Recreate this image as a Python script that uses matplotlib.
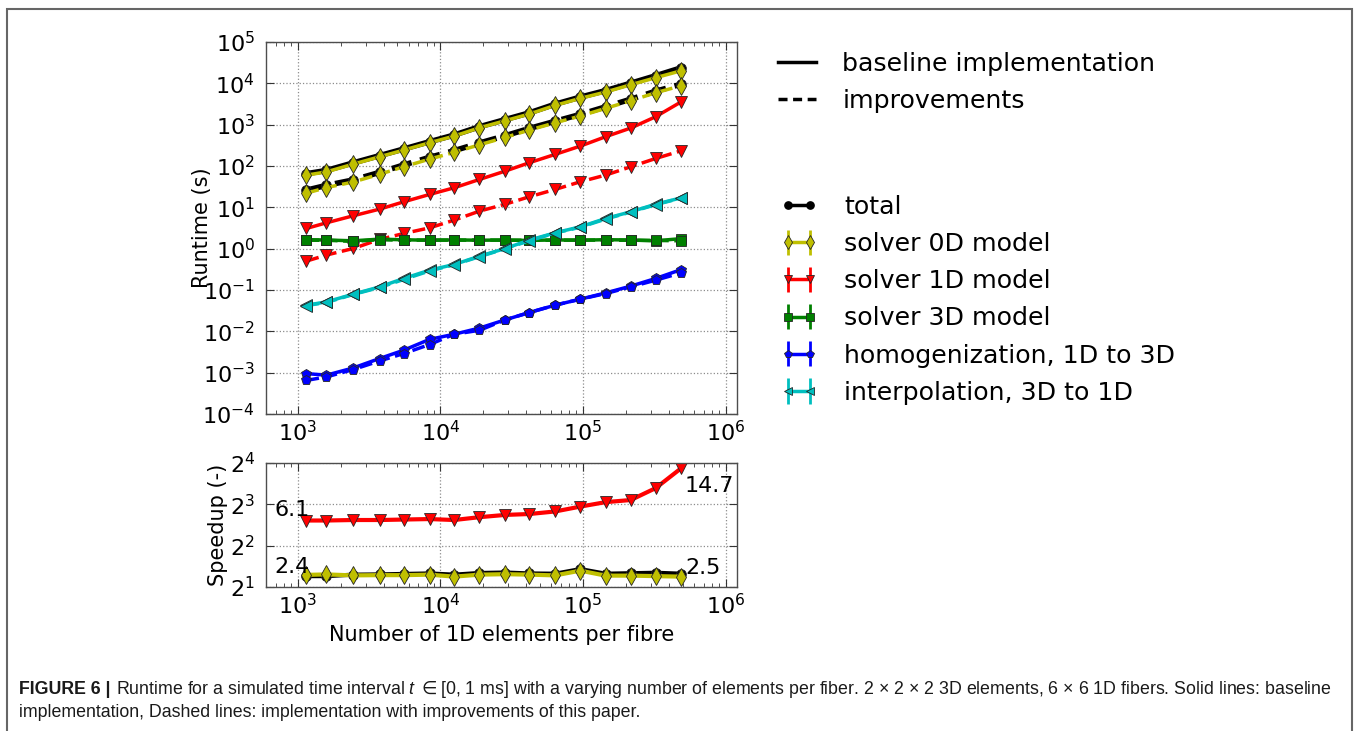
# Runtime and speedup of the multi-scale solver versus the number of 1D elements per fibre

import numpy as np
import matplotlib.pyplot as plt
from matplotlib import font_manager
from matplotlib.lines import Line2D
from matplotlib.patches import Rectangle
from matplotlib.ticker import LogLocator

plt.rcParams['font.family'] = 'DejaVu Sans'
plt.rcParams['mathtext.fontset'] = 'dejavusans'
plt.rcParams['axes.unicode_minus'] = False

# number of 1D elements per fibre
elements = [1150, 1590, 2450, 3750, 5540, 8410, 12500, 18800,
            28500, 42000, 63800, 95700, 144000, 216000, 323000, 489000]

# runtimes in seconds, baseline implementation
total_base = [65, 78, 119, 178, 258, 387, 561, 890,
              1330, 1930, 3130, 4640, 6670, 10080, 15250, 23810]
solver0d_base = [60, 72, 111, 167, 243, 365, 530, 841,
                 1250, 1807, 2933, 4335, 6156, 9240, 13680, 20200]
solver1d_base = [3.08, 4.22, 6.24, 9.04, 13.6, 20.5, 29.7, 47.3,
                 75.3, 120, 191, 303, 511, 828, 1557, 3590]
solver3d_base = [1.65, 1.62, 1.55, 1.7, 1.64, 1.6, 1.63, 1.6,
                 1.62, 1.58, 1.63, 1.6, 1.65, 1.62, 1.55, 1.75]
homog_base = [9.5e-4, 8.7e-4, 1.3e-3, 2.2e-3, 3.5e-3, 6.4e-3, 8.5e-3, 1.2e-2,
              1.9e-2, 2.85e-2, 4.3e-2, 6.0e-2, 8.5e-2, 0.124, 0.19, 0.313]
interp_base = [0.0428, 0.0516, 0.0791, 0.119, 0.19, 0.302, 0.414, 0.658,
               1.01, 1.61, 2.42, 3.38, 5.37, 7.8, 11.9, 17.0]

# runtimes in seconds, with improvements
total_impr = [26, 34, 46, 70, 106, 162, 235, 360,
              540, 810, 1210, 1770, 2700, 4130, 6450, 9550]
solver0d_impr = [22, 30, 41, 63, 96, 147, 214, 326,
                 492, 740, 1110, 1620, 2480, 3790, 5920, 8760]
solver1d_impr = [0.5, 0.7, 1.01, 1.67, 2.33, 3.19, 4.9, 8.1,
                 11.9, 18, 27.1, 41.5, 60.2, 95.8, 152, 234]
solver3d_impr = [1.6, 1.6, 1.5, 1.65, 1.6, 1.62, 1.6, 1.62,
                 1.6, 1.6, 1.6, 1.62, 1.6, 1.6, 1.58, 1.55]
homog_impr = [6.5e-4, 7.9e-4, 1.19e-3, 1.92e-3, 2.9e-3, 4.8e-3, 8.5e-3, 1.06e-2,
              1.9e-2, 2.85e-2, 4.3e-2, 6.0e-2, 8.2e-2, 0.119, 0.173, 0.26]
interp_impr = [0.042, 0.05, 0.078, 0.115, 0.18, 0.29, 0.41, 0.64,
               1.0, 1.55, 2.4, 3.3, 5.2, 7.7, 11.6, 16.8]

# speedup = baseline / improved
speedup_total = [2.4, 2.4, 2.46, 2.47, 2.49, 2.51, 2.46, 2.53,
                 2.55, 2.51, 2.5, 2.7, 2.5, 2.52, 2.54, 2.5]
speedup_0d = [2.45, 2.47, 2.43, 2.44, 2.44, 2.46, 2.38, 2.46,
              2.48, 2.46, 2.43, 2.63, 2.42, 2.42, 2.4, 2.38]
speedup_1d = [6.1, 6.1, 6.15, 6.15, 6.2, 6.25, 6.15, 6.45,
              6.7, 6.8, 7.1, 7.7, 8.3, 8.6, 10.5, 14.7]

W, H = 1360, 731
fig = plt.figure(figsize=(W / 100, H / 100), dpi=100)
ax = fig.add_axes([266 / W, 1 - 414 / H, 471 / W, 372 / H])
ax2 = fig.add_axes([266 / W, 1 - 587 / H, 471 / W, 124 / H])

yellow = (0.75, 0.75, 0)
cyan = (0, 0.75, 0.75)
green = (0, 0.5, 0)
mk = dict(mec='0.15', mew=0.6)
zeros = np.zeros(len(elements))

# total: plain line with circles, the components with (empty) error bars
ax.plot(elements, total_base, color='k', lw=4, marker='o', ms=7, **mk)
ax.plot(elements, total_impr, color='k', lw=4, ls='--', marker='o', ms=7, **mk)

components = [
    (solver0d_base, solver0d_impr, yellow, 'd', 9, 'solver 0D model'),
    (solver1d_base, solver1d_impr, 'r', 'v', 8, 'solver 1D model'),
    (solver3d_base, solver3d_impr, green, 's', 7.5, 'solver 3D model'),
    (homog_base, homog_impr, 'b', 'p', 7.5, 'homogenization, 1D to 3D'),
    (interp_base, interp_impr, cyan, '<', 8, 'interpolation, 3D to 1D'),
]
comp_handles = []
for base, impr, color, marker, ms, label in components:
    h = ax.errorbar(elements, base, yerr=zeros, color=color, marker=marker,
                    ms=ms, lw=2.5, elinewidth=2, **mk)
    ax.errorbar(elements, impr, yerr=zeros, color=color, marker=marker,
                ms=ms, lw=2.5, ls='--', elinewidth=2, **mk)
    comp_handles.append(h)

ax.set_xscale('log')
ax.set_yscale('log')
ax.set_xlim(600, 1.2e6)
ax.set_ylim(1e-4, 1e5)
ax.yaxis.set_major_locator(LogLocator(base=10, numticks=20))
ax.set_ylabel('Runtime (s)', fontsize=15)
ax.yaxis.set_label_coords(-0.115, 0.5)

# speedup panel
ax2.plot(elements, speedup_total, color='k', lw=3, marker='o', ms=7, **mk)
ax2.plot(elements, speedup_0d, color=yellow, lw=3, marker='d', ms=9, **mk)
ax2.plot(elements, speedup_1d, color='r', lw=3, marker='v', ms=8, **mk)
ax2.set_xscale('log')
ax2.set_yscale('log', base=2)
ax2.set_xlim(600, 1.2e6)
ax2.set_ylim(2, 16)
ax2.yaxis.set_major_locator(LogLocator(base=2, numticks=10))
ax2.set_ylabel('Speedup (-)', fontsize=15)
ax2.yaxis.set_label_coords(-0.081, 0.5)
ax2.set_xlabel('Number of 1D elements per fibre', fontsize=15)
ax2.xaxis.set_label_coords(0.5, -0.31)

for a in (ax, ax2):
    a.xaxis.set_major_locator(LogLocator(base=10, numticks=20))
    a.grid(True, which='major', color='0.55', ls=':', lw=0.9)
    a.tick_params(which='both', direction='in', top=True, right=True,
                  labelsize=16, color='0.2')
    a.tick_params(axis='x', which='both', pad=4)
    a.tick_params(axis='y', which='both', pad=8)
    a.tick_params(which='major', length=6)
    a.tick_params(which='minor', length=3)
    for s in a.spines.values():
        s.set_color('0.3')
        s.set_linewidth(1.0)

ann = dict(textcoords='offset pixels', fontsize=16, annotation_clip=False)
ax2.annotate('%.1f' % speedup_1d[0], (elements[0], speedup_1d[0]),
             xytext=(3, 5), ha='right', va='baseline', **ann)
ax2.annotate('%.1f' % speedup_1d[-1], (elements[-1], speedup_1d[-1]),
             xytext=(3, -24), ha='left', va='baseline', **ann)
ax2.annotate('%.1f' % speedup_total[0], (elements[0], speedup_total[0]),
             xytext=(3, 3), ha='right', va='baseline', **ann)
ax2.annotate('%.1f' % speedup_total[-1], (elements[-1], speedup_total[-1]),
             xytext=(4, 0), ha='left', va='baseline', **ann)

# legends
leg_kw = dict(loc='upper left', frameon=False, fontsize=18.2, handlelength=1.5,
              handletextpad=1.05, labelspacing=0.52, borderpad=0, borderaxespad=0)
style_handles = [Line2D([], [], color='k', lw=2.5),
                 Line2D([], [], color='k', lw=2.5, dashes=(2.6, 1.6))]
fig.legend(style_handles, ['baseline implementation', 'improvements'],
           bbox_to_anchor=(778 / W, 1 - 52 / H), **leg_kw)
total_handle = Line2D([], [], color='k', lw=2.5, marker='o', ms=7, mec='k')
fig.legend([total_handle] + comp_handles,
           ['total'] + [c[5] for c in components], numpoints=2, markerscale=0.75,
           bbox_to_anchor=(780 / W, 1 - 195 / H), **leg_kw)

# caption
names = {f.name for f in font_manager.fontManager.ttflist}
capfam = 'Liberation Sans Narrow' if 'Liberation Sans Narrow' in names else 'Liberation Sans'
plt.rcParams['mathtext.fontset'] = 'custom'
plt.rcParams['mathtext.it'] = capfam + ':italic'
plt.rcParams['mathtext.rm'] = 'DejaVu Sans'
capsize = 12.5
y1 = 1 - 694 / H
bold = fig.text(19 / W, y1, 'FIGURE 6 |', family=capfam,
                fontweight='bold', fontsize=capsize, va='baseline', color='0.1')
rest = fig.text(0.1, y1, 'Runtime for a simulated time interval $t$ $\\in$[0, 1 ms] with a varying '
                'number of elements per fiber. 2 \u00d7 2 \u00d7 2 3D elements, '
                '6 \u00d7 6 1D fibers. Solid lines: baseline',
                family=capfam, fontsize=capsize, va='baseline', color='0.1')
line2 = fig.text(19 / W, 1 - 717 / H, 'implementation, Dashed lines: implementation with '
                 'improvements of this paper.', family=capfam,
                 fontsize=capsize, va='baseline', color='0.1')

# fit the first caption line to the frame width
fig.canvas.draw()
r = fig.canvas.get_renderer()
gap = 5
width = bold.get_window_extent(r).width + gap + rest.get_window_extent(r).width
scale = 0.995 * (1343 - 19) / width
for t in (bold, rest, line2):
    t.set_fontsize(capsize * scale)
fig.canvas.draw()
rest.set_x((bold.get_window_extent(r).x1 + gap * scale) / W)

fig.add_artist(Rectangle((7 / W, -0.1), (1352 - 7) / W, 1.1 - 9 / H,
                         transform=fig.transFigure, fill=False,
                         edgecolor='0.4', lw=1.5))

fig.savefig('out.png', dpi=100)
